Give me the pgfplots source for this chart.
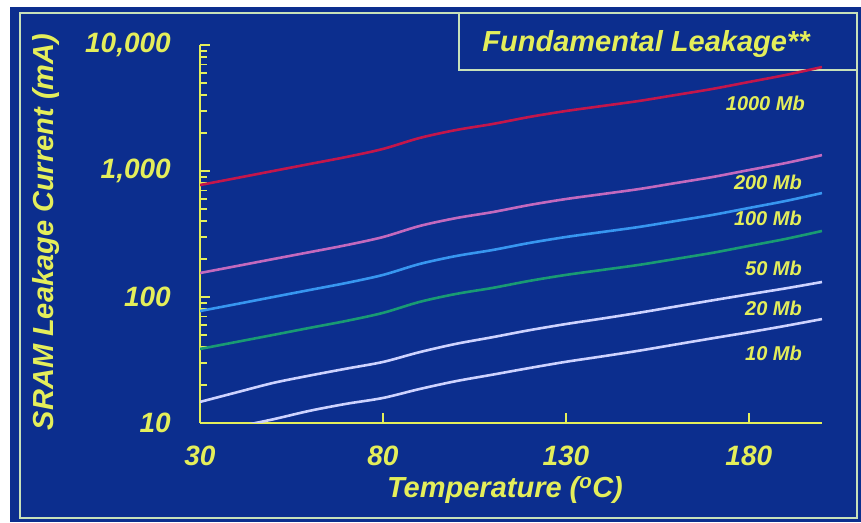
\documentclass[border=0pt]{standalone}
\usepackage{pgfplots}
\pgfplotsset{compat=1.18}
\usepackage{fontspec}
\setmainfont{Liberation Sans}
\definecolor{bg}{RGB}{12,46,142}
\definecolor{yel}{RGB}{228,238,90}
\definecolor{framec}{RGB}{200,225,185}
\definecolor{c1000}{RGB}{195,22,75}
\definecolor{c200}{RGB}{195,105,190}
\definecolor{c100}{RGB}{55,150,240}
\definecolor{c50}{RGB}{25,155,115}
\definecolor{cwhite}{RGB}{205,210,255}
\begin{document}
\begin{tikzpicture}[x=1pt,y=1pt]
\fill[white] (0,0) rectangle (861,522);
\fill[bg] (10,0) rectangle (861,515);
\draw[framec, line width=2pt] (20,4) rectangle (857,509);
\draw[framec, line width=2pt] (459,452) rectangle (857,509);
\node[yel, font=\fontsize{29}{32}\selectfont\bfseries\itshape, anchor=base] at (646,470) {Fundamental Leakage**};
\begin{axis}[
  at={(200pt,99pt)}, anchor=south west, scale only axis,
  width=622pt, height=378pt,
  ymode=log, xmin=30, xmax=200, ymin=10, ymax=10000,
  axis lines*=left,
  axis line style={yel, line width=2.5pt},
  tick style={yel, line width=1.5pt},
  tick align=inside,
  major tick length=10pt, minor tick length=7pt,
  xtick={30,80,130,180}, xticklabels={30,80,130,180},
  xminorticks=false,
  ytick={10,100,1000,10000}, yticklabels={10,100,{1,000},{10,000}},
  xticklabel style={yel, font=\fontsize{28}{30}\selectfont\bfseries\itshape, inner sep=0pt, anchor=north, yshift=-23pt},
  yticklabel style={yel, font=\fontsize{28}{30}\selectfont\bfseries\itshape, inner sep=0pt, anchor=east, xshift=-29pt},
  every axis plot/.append style={line width=2.6pt, smooth, tension=0.5},
  clip=true,
]
\addplot[c1000] coordinates {
(30,774) (40,879) (50,1000) (60,1137) (70,1292) (80,1496) (90,1828) (100,2115) (110,2361) (120,2684) (130,2993) (140,3281) (150,3597) (160,4010) (170,4477) (180,5085) (190,5776) (200,6683)};
\addplot[c200] coordinates {
(30,155) (40,176) (50,200) (60,227) (70,258) (80,299) (90,366) (100,423) (110,472) (120,537) (130,599) (140,656) (150,719) (160,802) (170,895) (180,1017) (190,1155) (200,1337)};
\addplot[c100] coordinates {
(30,77.4) (40,87.9) (50,100) (60,113.7) (70,129.2) (80,149.6) (90,182.8) (100,211.5) (110,236.1) (120,268.4) (130,299.3) (140,328.1) (150,359.7) (160,401) (170,447.7) (180,508.5) (190,577.6) (200,668.3)};
\addplot[c50] coordinates {
(30,38.7) (40,44.0) (50,50) (60,56.9) (70,64.6) (80,74.8) (90,91.4) (100,105.8) (110,118.1) (120,134.2) (130,149.7) (140,164.1) (150,179.9) (160,200.5) (170,223.9) (180,254.3) (190,288.8) (200,334.2)};
\addplot[cwhite] coordinates {
(30,14.7) (40,17.5) (50,20.8) (60,23.8) (70,27.0) (80,30.5) (90,36.5) (100,42.5) (110,48) (120,54.5) (130,61) (140,67.5) (150,75) (160,84) (170,94) (180,105) (190,117) (200,131.5)};
\addplot[cwhite] coordinates {
(30,8.0) (40,9.3) (50,10.7) (60,12.5) (70,14.2) (80,15.8) (90,18.6) (100,21.5) (110,24.2) (120,27.3) (130,30.6) (140,33.8) (150,37.5) (160,42) (170,47) (180,52.5) (190,59) (200,66.8)};
\end{axis}
\node[yel, font=\fontsize{29}{32}\selectfont\bfseries\itshape, rotate=90] at (46,290) {SRAM Leakage Current (mA)};
\node[yel, font=\fontsize{29}{32}\selectfont\bfseries\itshape] at (505,32) {Temperature (\textsuperscript{o}C)};
\begin{scope}[every node/.style={yel, font=\fontsize{20}{22}\selectfont\bfseries\itshape, anchor=east, inner sep=0pt}]
\node at (805,419) {1000 Mb};
\node at (802,340) {200 Mb};
\node at (802,304) {100 Mb};
\node at (802,254) {50 Mb};
\node at (802,214) {20 Mb};
\node at (802,169) {10 Mb};
\end{scope}
\pgfresetboundingbox
\path (0,0) rectangle (861,522);
\end{tikzpicture}
\end{document}
